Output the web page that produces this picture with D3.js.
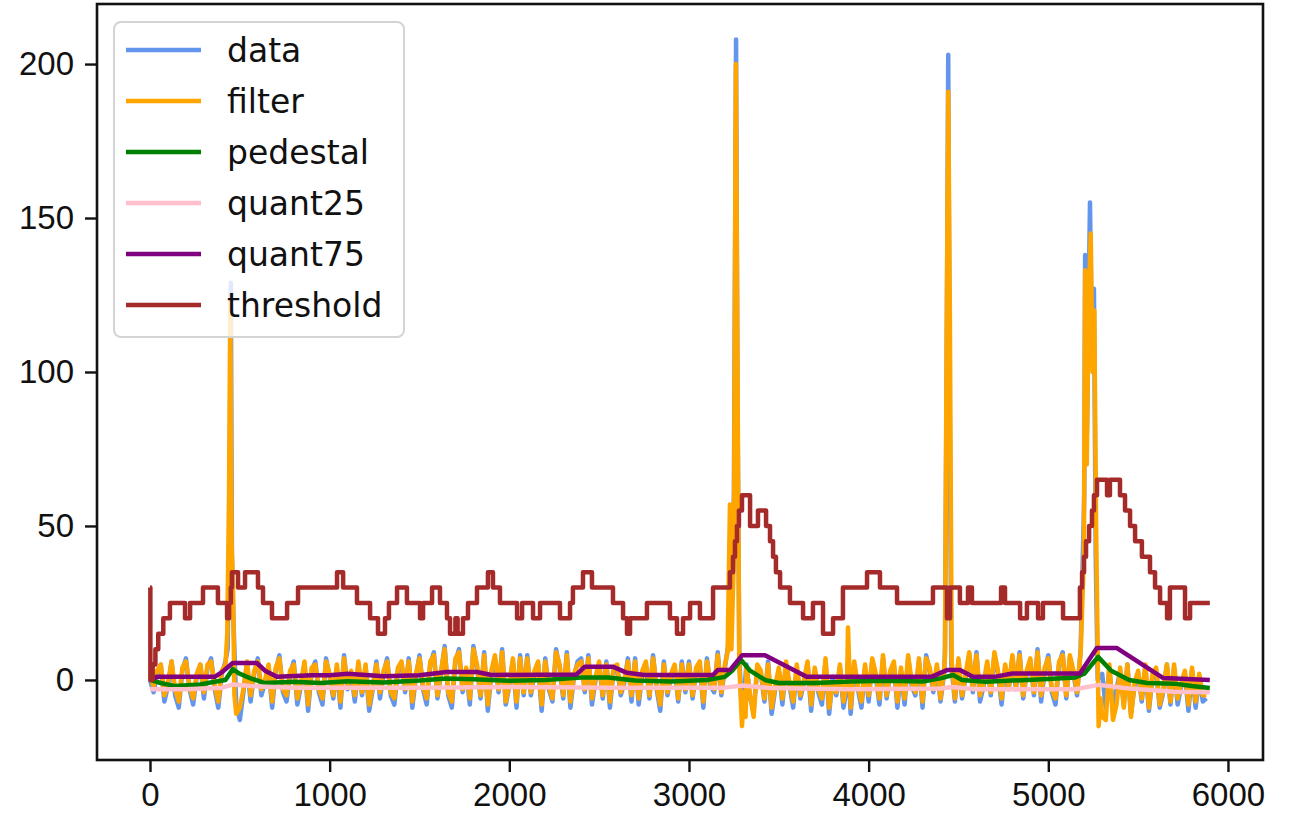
<!DOCTYPE html>
<html>
<head>
<meta charset="utf-8">
<script src="https://cdn.jsdelivr.net/npm/d3@7"></script>
<style>
  body { margin: 0; background: #fff; }
  svg { display: block; font-family: "DejaVu Sans", sans-serif; }
  .tick text { font-size: 33px; fill: #111; }
  .tick line { stroke: #111; stroke-width: 2.4; }
  .Line { fill: none; stroke-width: 4.5; stroke-linejoin: round; }
</style>
</head>
<body>
<svg id="chart" width="1290" height="820"></svg>
<script>
const STEP = 20; // sample spacing of the base arrays

// Raw signal, one value every STEP samples (null where a spike list takes over).
const dataBase = [
  0, -4, 2, 5, -7, -2, 6, -5, -9, 3, 7, -3, -8, 1, 5,
  -6, 4, 7, -3, -9, 2, 6, null, null, -8, -13, -4, 5, -7, 2,
  7, -5, -1, 4, -9, 3, 8, -4, -7, 2, 6, -8, -2, 5, -10,
  3, 6, -4, -8, 7, 1, -6, 4, -9, 8, -3, 2, -7, 5, -5,
  4, -10, -3, 6, -6, 2, 7, -5, -8, 3, 5, -4, 7, -9, 1,
  8, -3, -8, 5, 9, -6, 2, 11, -5, -9, 6, 10, -4, 3, -8,
  11, 4, -6, 9, -10, 2, 7, -4, 10, -8, -2, 6, -9, 8, -5,
  8, -5, 2, 5, -10, 7, -3, -7, 10, 4, -6, 9, -9, 1, 6,
  7, -4, 8, -8, 0, 5, -6, 6, -9, 3, 4, -5, -1, 7, -7,
  7, -8, 2, 5, -6, 8, -3, -10, 6, -5, 1, 4, -7, 6, -4,
  6, -6, 3, 5, -9, 7, -2, -4, 9, -5, 4, null, null, null, null,
  -9, 5, -6, -10, 4, 2, -7, 6, -11, -3, 3, -8, 5, -2, -9,
  4, -6, -1, 5, -10, 3, -4, -8, 6, -11, 1, -5, 4, -9, -2,
  -11, 5, -3, -9, 4, -7, 6, 1, -8, 7, -6, 2, 5, -9, 3,
  -8, 7, -2, -5, 6, -9, 8, 3, -4, 4, -7, 2, null, null, -7,
  6, -6, 1, 8, -4, 9, -7, -2, 5, -5, 8, 2, -8, 4, -3,
  7, -3, 9, -6, 2, 6, -5, 10, -7, 3, 8, -4, -8, 5, 9,
  -6, 7, 2, -5, 10, null, null, null, null, null, 2, -9, 4, -10, -3,
  3, -8, 5, -11, -2, 2, -7, 4, -10, 1, 3, -9, -4, 5, -8,
  4, -8, -2, 2, -10, 3, -9, 1, -7, -6
];
const dataSpikes = [
  [432, 10], [442, 50], [450, 129], [456, 40], [464, 20],
  [3215, 10], [3228, 14], [3250, 60], [3262, 208], [3270, 90], [3280, 8], [3292, -8],
  [3885, 6],
  [4425, 10], [4436, 120], [4443, 203], [4450, 100], [4460, 5],
  [5200, 60], [5205, 138], [5215, 80], [5232, 155], [5242, 110], [5254, 127], [5264, 40], [5275, 0]
];

// Filtered signal.
const filterBase = [
  1, -2, 3, 5, -5, -1, 6, -3, -7, 4, 6, -2, -6, 2, 5,
  -4, 5, 6, -2, -7, 3, 5, null, null, -11, -9, -3, 6, -5, 3,
  6, -3, 0, 5, -7, 4, 7, -3, -5, 3, 5, -6, -1, 6, -8,
  4, 5, -3, -6, 6, 2, -5, 5, -7, 7, -2, 3, -5, 6, -4,
  5, -8, -2, 5, -4, 3, 6, -4, -6, 4, 6, -3, 6, -7, 2,
  7, -2, -6, 6, 8, -5, 3, 10, -4, -7, 7, 9, -3, 4, -6,
  10, 5, -5, 8, -8, 3, 8, -3, 9, -7, -1, 7, -7, 7, -4,
  7, -4, 3, 6, -8, 6, -2, -6, 9, 5, -5, 8, -7, 2, 5,
  6, -3, 7, -6, 1, 6, -5, 5, -7, 4, 5, -4, 0, 6, -5,
  6, -6, 3, 6, -5, 7, -2, -8, 5, -4, 2, 5, -6, 5, -3,
  5, -5, 4, 6, -7, 6, -1, -3, 8, -4, 5, null, null, null, null,
  null, 4, -5, -12, 5, 3, -6, 5, -9, -2, 4, -6, 6, -1, -7,
  5, -5, 0, 6, -8, 4, -3, -6, 7, -9, -1, -4, 5, -7, -1,
  -9, 6, -2, -7, 5, -5, 7, 2, -6, 8, -5, 3, 6, -7, 4,
  -6, 8, -1, -4, 7, -7, 7, 4, -3, 5, -6, 3, null, null, -6,
  7, -5, 2, 9, -3, 8, -5, -1, 6, -4, 9, 3, -6, 5, -2,
  8, -2, 8, -5, 3, 7, -4, 9, -5, 4, 7, -3, -6, 6, 8,
  -5, 8, 3, -4, 9, null, null, null, null, null, -12, -13, 5, -13, -8,
  4, -9, 5, -12, -1, 3, -6, 5, -9, 2, 4, -8, -3, 5, -7,
  5, -6, -1, 3, -8, 4, -7, 2, -5, -5
];
const filterSpikes = [
  [430, 15], [440, 60], [447, 123], [454, 45], [462, 30], [470, -5],
  [3215, 9], [3228, 57], [3236, 10], [3250, 40], [3261, 200], [3270, 100], [3280, 5],
  [3295, -15], [3305, -4], [3315, -12],
  [3885, 17],
  [4425, 8], [4434, 110], [4443, 191], [4452, 120], [4462, 6],
  [5198, 40], [5205, 133], [5214, 70], [5224, 120], [5236, 145], [5246, 100], [5256, 120],
  [5266, 50], [5280, -15], [5292, -6]
];

const pedestal = [
  [0, 0], [60, -1], [140, -2], [280, -1.5], [360, -0.6], [420, 0], [460, 3.5], [500, 2],
  [556, 0.6], [640, -1], [800, -0.6], [950, -1], [1100, -0.4], [1300, -0.8], [1500, -0.2],
  [1650, 0.5], [1800, 0.2], [2000, -0.3], [2200, 0], [2400, 0.8], [2550, 0.8], [2700, -0.2],
  [2900, -0.5], [3100, 0], [3200, 1], [3240, 3], [3290, 6.5], [3340, 3], [3423, 0],
  [3500, -1], [3700, -1], [3900, -0.5], [4100, -0.3], [4300, -0.5], [4400, 0.5], [4470, 1.6],
  [4520, 0], [4650, -0.6], [4800, -0.2], [5000, 0.3], [5150, 0.8], [5200, 2], [5277, 7.5],
  [5350, 3], [5450, 0], [5550, -1], [5700, -1.2], [5800, -2], [5899, -2.6]
];

const quant25 = [
  [0, -3], [200, -3], [400, -2.5], [460, -1.5], [560, -2], [800, -2.5], [1500, -2.5],
  [2000, -2.3], [2600, -2.5], [3200, -2.5], [3300, -1.8], [3450, -2.6], [3900, -3],
  [4400, -2.8], [4460, -2.3], [4600, -3], [5150, -3], [5280, -1.6], [5450, -2.8],
  [5700, -3.8], [5899, -4]
];

const quant75 = [
  [0, 0], [37, 1], [360, 1], [400, 2.5], [460, 5.5], [595, 5.5], [640, 3], [707, 1],
  [900, 1.5], [1000, 1.5], [1100, 2], [1300, 1.2], [1500, 1.5], [1650, 2.6], [1820, 2.6],
  [1900, 1.6], [2375, 1.8], [2420, 4.3], [2575, 4.3], [2655, 2.3], [2750, 1.6], [3134, 1.6],
  [3160, 3.2], [3228, 3.2], [3295, 8], [3423, 8], [3655, 1], [4350, 1], [4400, 2.3],
  [4436, 3.2], [4508, 3.2], [4580, 1], [4700, 1], [4800, 2.1], [5176, 2.1], [5270, 10.4],
  [5380, 10.4], [5640, 0.6], [5899, 0]
];

// Threshold is a step function: [x where level starts, level].
const threshold = [
  [0, 30], [2, 0], [15, 5], [30, 10], [46, 15], [74, 20], [111, 25], [195, 20], [223, 25],
  [295, 30], [378, 25], [429, 20], [440, 25], [450, 30], [456, 35], [490, 30], [529, 35],
  [601, 30], [629, 25], [679, 20], [763, 25], [824, 30], [1041, 35], [1075, 30], [1152, 25],
  [1225, 20], [1269, 15], [1308, 20], [1330, 25], [1375, 30], [1430, 25], [1503, 20],
  [1520, 25], [1570, 30], [1614, 25], [1653, 20], [1670, 15], [1700, 20], [1712, 15],
  [1742, 20], [1770, 25], [1820, 30], [1881, 35], [1909, 30], [1948, 25], [2043, 20],
  [2071, 25], [2132, 20], [2171, 25], [2282, 20], [2338, 25], [2354, 30], [2410, 35],
  [2460, 30], [2577, 25], [2633, 20], [2655, 15], [2672, 20], [2766, 25], [2894, 20],
  [2933, 15], [2967, 20], [3006, 25], [3061, 20], [3134, 30], [3228, 35], [3245, 40],
  [3256, 45], [3267, 50], [3278, 55], [3295, 60], [3340, 50], [3384, 55], [3429, 50],
  [3451, 45], [3468, 40], [3484, 35], [3507, 30], [3562, 25], [3635, 20], [3690, 25],
  [3746, 15], [3802, 20], [3857, 30], [3991, 35], [4063, 30], [4158, 25], [4358, 30],
  [4436, 20], [4453, 30], [4508, 25], [4553, 30], [4575, 25], [4737, 30], [4759, 25],
  [4843, 20], [4881, 25], [4943, 20], [4970, 25], [5082, 20], [5176, 30], [5188, 35],
  [5199, 40], [5210, 45], [5227, 50], [5243, 55], [5254, 60], [5271, 65], [5327, 60],
  [5343, 65], [5399, 60], [5427, 55], [5455, 50], [5483, 45], [5521, 40], [5566, 35],
  [5594, 30], [5622, 25], [5661, 20], [5677, 30], [5761, 20], [5789, 25], [5899, 25]
];

const xTicks = [0, 1000, 2000, 3000, 4000, 5000, 6000];
const yTicks = [0, 50, 100, 150, 200];
const seriesNames = ["data", "filter", "pedestal", "quant25", "quant75", "threshold"];
const seriesColors = ["cornflowerblue", "orange", "green", "pink", "purple", "brown"];

// Merge a regularly sampled array with its spike points.
function buildSeries(base, spikes) {
  const pts = [];
  base.forEach((v, i) => {
    if (v !== null) pts.push([i * STEP, v]);
  });
  return pts.concat(spikes).sort((a, b) => a[0] - b[0]);
}

const svg = d3.select("#chart");
const plot = {left: 97, right: 1263, top: 4, bottom: 760};

const xScale = d3.scaleLinear().domain([-295, 6195]).range([plot.left, plot.right]);
const yScale = d3.scaleLinear().domain([-26, 219.5]).range([plot.bottom, plot.top]);

// Draw lines.

const line = d3.line().x((d) => xScale(d[0])).y((d) => yScale(d[1]));
const stepLine = d3.line().x((d) => xScale(d[0])).y((d) => yScale(d[1])).curve(d3.curveStepAfter);

const series = [
  buildSeries(dataBase, dataSpikes),
  buildSeries(filterBase, filterSpikes),
  pedestal,
  quant25,
  quant75,
  threshold
];
const gLines = svg.append("g");
series.forEach((s, i) => {
  gLines.append("path")
    .attr("class", "Line")
    .attr("stroke", seriesColors[i])
    .attr("d", i === 5 ? stepLine(s) : line(s));
});

// Draw axes.

const xAxis = d3.axisBottom(xScale)
  .tickValues(xTicks)
  .tickFormat(d3.format("d"))
  .tickSizeInner(12)
  .tickSizeOuter(0)
  .tickPadding(11);
const yAxis = d3.axisLeft(yScale)
  .tickValues(yTicks)
  .tickFormat(d3.format("d"))
  .tickSizeInner(12)
  .tickSizeOuter(0)
  .tickPadding(11);
svg.append("g")
  .attr("transform", `translate(0, ${plot.bottom})`)
  .call(xAxis)
  .call((g) => g.select(".domain").remove());
svg.append("g")
  .attr("transform", `translate(${plot.left}, 0)`)
  .call(yAxis)
  .call((g) => g.select(".domain").remove());

svg.append("rect")
  .attr("x", plot.left)
  .attr("y", plot.top)
  .attr("width", plot.right - plot.left)
  .attr("height", plot.bottom - plot.top)
  .attr("fill", "none")
  .attr("stroke", "#111")
  .attr("stroke-width", 2.6);

// Draw legend.

const gLegend = svg.append("g");
gLegend.append("rect")
  .attr("x", 114)
  .attr("y", 22)
  .attr("width", 290)
  .attr("height", 315)
  .attr("rx", 7)
  .attr("fill", "#fff")
  .attr("fill-opacity", 0.8)
  .attr("stroke", "#d4d4d4")
  .attr("stroke-width", 2);
seriesNames.forEach((name, i) => {
  const y = 50 + i * 51;
  gLegend.append("line")
    .attr("x1", 126)
    .attr("x2", 201)
    .attr("y1", y)
    .attr("y2", y)
    .attr("stroke", seriesColors[i])
    .attr("stroke-width", 4.5);
  gLegend.append("text")
    .attr("x", 227)
    .attr("y", y + 12)
    .attr("font-size", 33)
    .attr("fill", "#111")
    .text(name);
});
</script>
</body>
</html>
